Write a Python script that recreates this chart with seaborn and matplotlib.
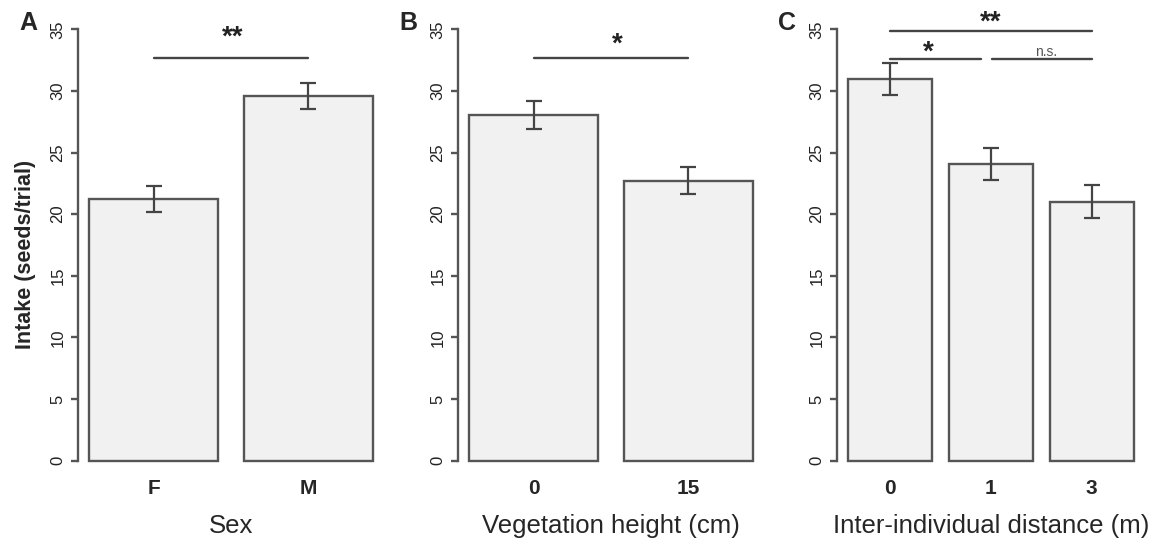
import matplotlib
matplotlib.use("Agg")
import matplotlib.pyplot as plt
import seaborn as sns
import pandas as pd

# ===== data (means and standard errors) =====
sex_levels = ["F", "M"]
sex_means = [21.2, 29.6]
sex_se = [1.05, 1.05]

veg_levels = ["0", "15"]
veg_means = [28.05, 22.7]
veg_se = [1.15, 1.1]

dist_levels = ["0", "1", "3"]
dist_means = [31.0, 24.1, 21.0]
dist_se = [1.3, 1.3, 1.35]

# significance brackets: (x from, x to, y, label, label x, label baseline y, font size)
sex_sig = [(0.0, 1.0, 32.7, "**", 0.51, 33.75, 20)]
veg_sig = [(0.0, 1.0, 32.7, "*", 0.54, 33.2, 20)]
dist_sig = [(0.0, 2.0, 34.85, "**", 1.0, 34.95, 20),
            (0.0, 0.9, 32.6, "*", 0.38, 32.5, 20),
            (1.01, 2.0, 32.6, "n.s.", 1.55, 32.85, 10)]

sns.set_style("ticks")
plt.rcParams["font.family"] = ["Liberation Sans", "DejaVu Sans"]

EDGE = "#555555"
FILL = "#f1f1f1"
BAR_W = 1 / 1.2

fig = plt.figure(figsize=(11.53, 5.4), dpi=100)

panels = [
    ("A", sex_levels, sex_means, sex_se, sex_sig, "Sex", 78, 306),
    ("B", veg_levels, veg_means, veg_se, veg_sig, "Vegetation height (cm)", 458, 306),
    ("C", dist_levels, dist_means, dist_se, dist_sig, "Inter-individual distance (m)", 837, 308),
]

for letter, levels, means, se, sigs, xlab, left_px, width_px in panels:
    ax = fig.add_axes([left_px / 1153, 62 / 540, width_px / 1153, 466 / 540])
    df = pd.DataFrame({"level": levels, "intake": means})
    sns.barplot(data=df, x="level", y="intake", order=levels, color=FILL,
                width=BAR_W, errorbar=None, edgecolor=EDGE, linewidth=1.7,
                saturation=1, ax=ax)
    ax.errorbar(range(len(levels)), means, yerr=se, fmt="none", ecolor="#444444",
                elinewidth=1.6, capsize=5.5, capthick=1.6)

    for x0, x1, y, lab, lx, ly, fs in sigs:
        ax.plot([x0, x1], [y, y], color="#444444", lw=1.7, clip_on=False)
        ax.text(lx, ly, lab, ha="center", va="baseline", fontsize=fs,
                fontweight="bold" if lab != "n.s." else "normal",
                color="#222222" if lab != "n.s." else "#555555")

    n = len(levels)
    span = (n - 1) + BAR_W
    ext = 0.04 * span
    ax.set_xlim(-BAR_W / 2 - ext, n - 1 + BAR_W / 2 + ext)
    ax.set_ylim(-1.4, 36.4)

    sns.despine(ax=ax, bottom=True)
    ax.spines["left"].set_bounds(0, 35)
    ax.spines["left"].set_color(EDGE)
    ax.spines["left"].set_linewidth(1.7)
    ax.set_yticks(range(0, 36, 5))
    ax.tick_params(axis="y", length=5, width=1.7, color=EDGE, pad=4,
                   labelsize=12, labelrotation=90, labelcolor="#222222")
    for t in ax.get_yticklabels():
        t.set_va("center")
    ax.tick_params(axis="x", length=0, pad=1, labelsize=15)
    for t in ax.get_xticklabels():
        t.set_fontweight("bold")

    ax.set_xlabel(xlab, fontsize=18.5, labelpad=11)
    if letter == "A":
        ax.set_ylabel("Intake (seeds/trial)", fontsize=15.5, fontweight="bold")
        ax.yaxis.set_label_coords(-0.137, 0.48)
    else:
        ax.set_ylabel("")

    fig.text((left_px - 59) / 1153, (540 - 30) / 540, letter, fontsize=18,
             fontweight="bold", va="baseline", ha="left")

fig.savefig("out.png", dpi=100)
